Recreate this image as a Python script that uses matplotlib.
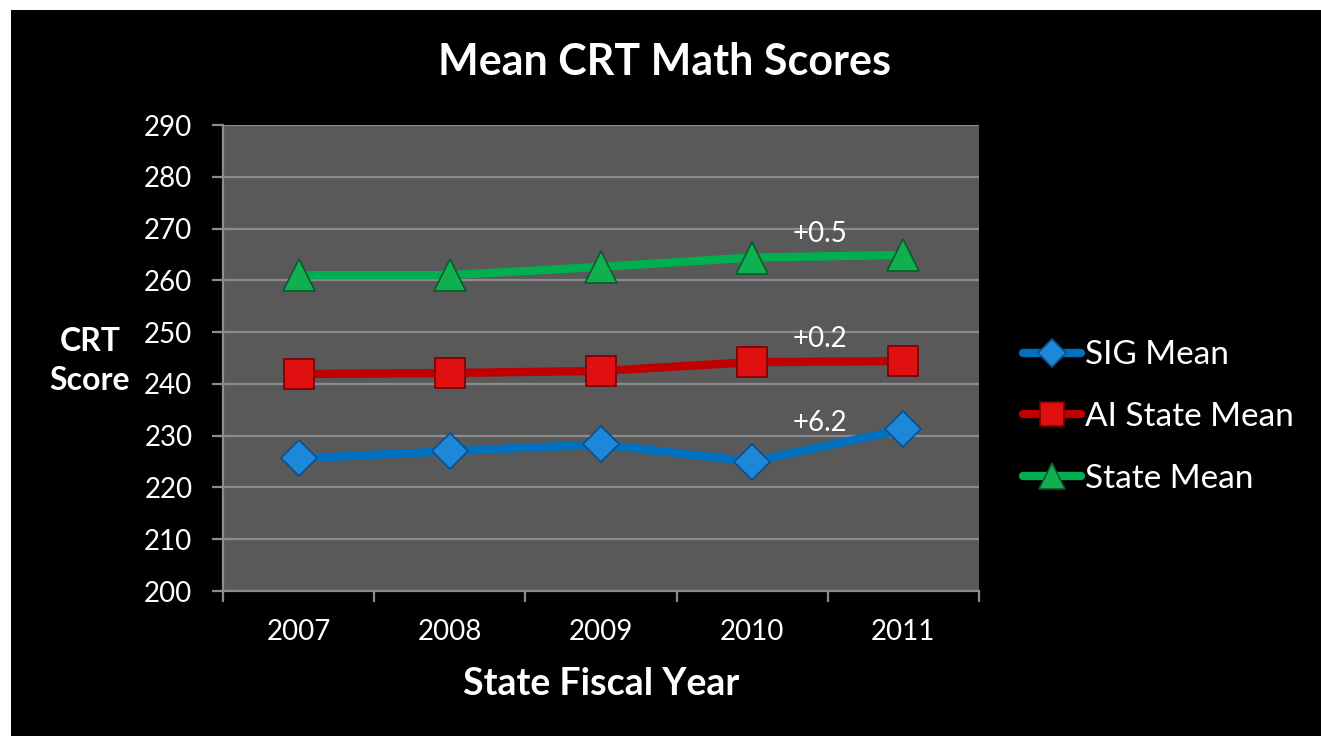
import matplotlib.pyplot as plt
from matplotlib.patches import Rectangle

# data
years = ['2007', '2008', '2009', '2010', '2011']
sig_mean = [225.6, 227.0, 228.3, 225.0, 231.2]
ai_state_mean = [241.9, 242.1, 242.5, 244.2, 244.4]
state_mean = [261.0, 261.0, 262.6, 264.4, 264.9]
changes = ['+6.2', '+0.2', '+0.5']

plt.rcParams['font.family'] = ['Lato', 'DejaVu Sans']

fig = plt.figure(figsize=(13.21, 7.36), dpi=100, facecolor='white')
# black slide background with thin white border top/left
fig.patches.append(Rectangle((11 / 1321, 0), 1, 1 - 10 / 736, transform=fig.transFigure,
                             facecolor='black', edgecolor='none', zorder=-10))

ax = fig.add_axes([223 / 1321, 1 - 591 / 736, (979 - 223) / 1321, (591 - 125) / 736])
ax.set_facecolor('#595959')

x = list(range(len(years)))
series = [
    (sig_mean, 'SIG Mean', '#0070c0', 'D', '#1e88d8', '#0a4f8c', 18),
    (ai_state_mean, 'AI State Mean', '#c00000', 's', '#e01010', '#7a0000', 21),
    (state_mean, 'State Mean', '#00b050', '^', '#10b050', '#0a5a2a', 23),
]
for vals, name, col, mk, mfc, mec, ms in series:
    ax.plot(x, vals, color=col, lw=6, marker=mk, markersize=ms,
            markerfacecolor=mfc, markeredgecolor=mec, markeredgewidth=1.2,
            label=name, solid_capstyle='round', zorder=3)

# change labels between 2010 and 2011
for vals, txt in zip([sig_mean, ai_state_mean, state_mean], changes):
    mid = (vals[3] + vals[4]) / 2
    ax.annotate(txt, xy=(3.45, mid), xytext=(0, 16), textcoords='offset points',
                ha='center', va='center', color='white', fontsize=20, zorder=4)

ax.set_xlim(-0.5, 4.5)
ax.set_ylim(200, 290)
ax.set_yticks(range(200, 291, 10))
ax.set_xticks(x)
ax.set_xticklabels(years)
ax.set_xticks([i - 0.5 for i in range(6)], minor=True)
ax.grid(axis='y', color='#8c8c8c', lw=1.6, zorder=1)
ax.set_axisbelow(True)

for s in ['top', 'right']:
    ax.spines[s].set_visible(False)
for s in ['left', 'bottom']:
    ax.spines[s].set_color('#8c8c8c')
    ax.spines[s].set_linewidth(1.6)

ax.tick_params(axis='y', colors='#8c8c8c', labelcolor='white', labelsize=20,
               length=8, width=1.6, pad=14)
ax.tick_params(axis='x', which='major', length=0, labelcolor='white',
               labelsize=20, pad=20)
ax.tick_params(axis='x', which='minor', length=8, width=1.6, colors='#8c8c8c')

ax.set_xlabel('State Fiscal Year', color='white', fontsize=27, fontweight='bold',
              labelpad=16)
fig.text(90 / 1321, 1 - 361 / 736, 'CRT\nScore', color='white', fontsize=23,
         fontweight='bold', ha='center', va='center', linespacing=1.45)

fig.text(664 / 1321, 1 - 62 / 736, 'Mean CRT Math Scores', color='white',
         fontsize=31, fontweight='bold', ha='center', va='center')

fig.legend(loc='center left', bbox_to_anchor=(993 / 1321, 1 - 417 / 736),
           frameon=False, labelcolor='white', fontsize=24, handlelength=1.75,
           handletextpad=0.1, labelspacing=0.95, markerscale=0.8)

fig.savefig('out.png', dpi=100, facecolor=fig.get_facecolor())
